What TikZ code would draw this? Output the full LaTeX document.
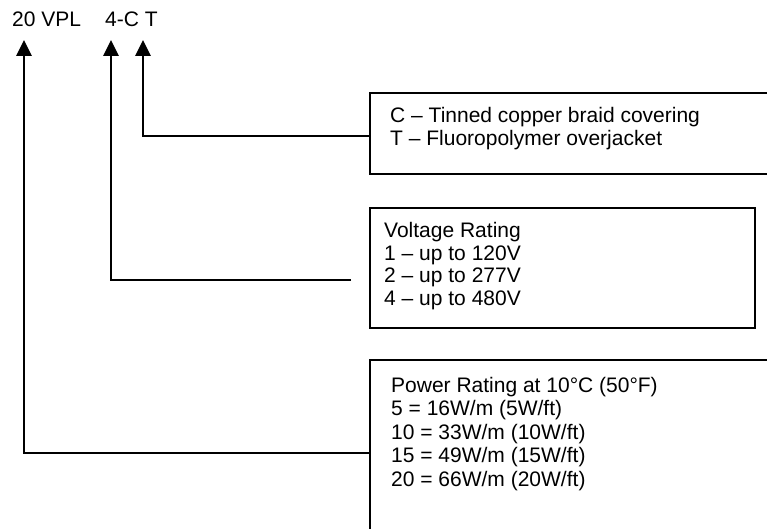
\documentclass[tikz,border=0pt]{standalone}
\usepackage{fontspec}
\setmainfont{Liberation Sans}
\usepackage{tikz}
\usetikzlibrary{arrows.meta, positioning}

\begin{document}
\begin{tikzpicture}[x=1pt, y=-1pt,
  code/.style={inner sep=0pt, anchor=base west, font=\fontsize{21}{23.5}\selectfont},
  box/.style={draw, rectangle, line width=1.6pt, anchor=north west, inner sep=0pt},
  legend/.style={inner sep=0pt, align=left, font=\fontsize{21}{23.5}\selectfont},
  pointer/.style={-{Triangle[length=16pt, width=15.5pt]}, line width=1.6pt}
]
\useasboundingbox (0,0) rectangle (767,529);
\clip (0,0) rectangle (767,529);

% Part number
\node[code] (model) at (12,27) {20 VPL};
\node[code] (suffix) at (105,27) {4-C T};
\coordinate (tipwatt) at (24,40);
\coordinate (tipvolt) at (111,40);
\coordinate (tipjacket) at (143,40);

% Top box (braid and jacket)
\node[box, minimum width=420pt, minimum height=81pt] (braidbox) at (369,92) {};
\node[legend, below right=15pt and 21pt of braidbox.north west] (braidtxt)
  {C – Tinned copper braid covering\\T – Fluoropolymer overjacket};
\draw[pointer] ([yshift=-2.5pt]braidbox.west) -| (tipjacket);

% Middle box (voltage)
\node[box, minimum width=385pt, minimum height=120pt] (voltbox) at (369,207) {};
\node[legend, font=\fontsize{21}{22.6}\selectfont, below right=15pt and 15pt of voltbox.north west] (volttxt)
  {Voltage Rating\\1 – up to 120V\\2 – up to 277V\\4 – up to 480V};
\draw[pointer] ([xshift=-18pt, yshift=-12pt]voltbox.west) -| (tipvolt);

% Bottom box (power)
\node[box, minimum width=420pt, minimum height=186pt] (wattbox) at (369,359) {};
\node[legend, below right=18pt and 22pt of wattbox.north west] (watttxt)
  {Power Rating at 10°C (50°F)\\5 = 16W/m (5W/ft)\\10 = 33W/m (10W/ft)\\15 = 49W/m (15W/ft)\\20 = 66W/m (20W/ft)};
\draw[pointer] (wattbox.west) -| (tipwatt);

\end{tikzpicture}
\end{document}
